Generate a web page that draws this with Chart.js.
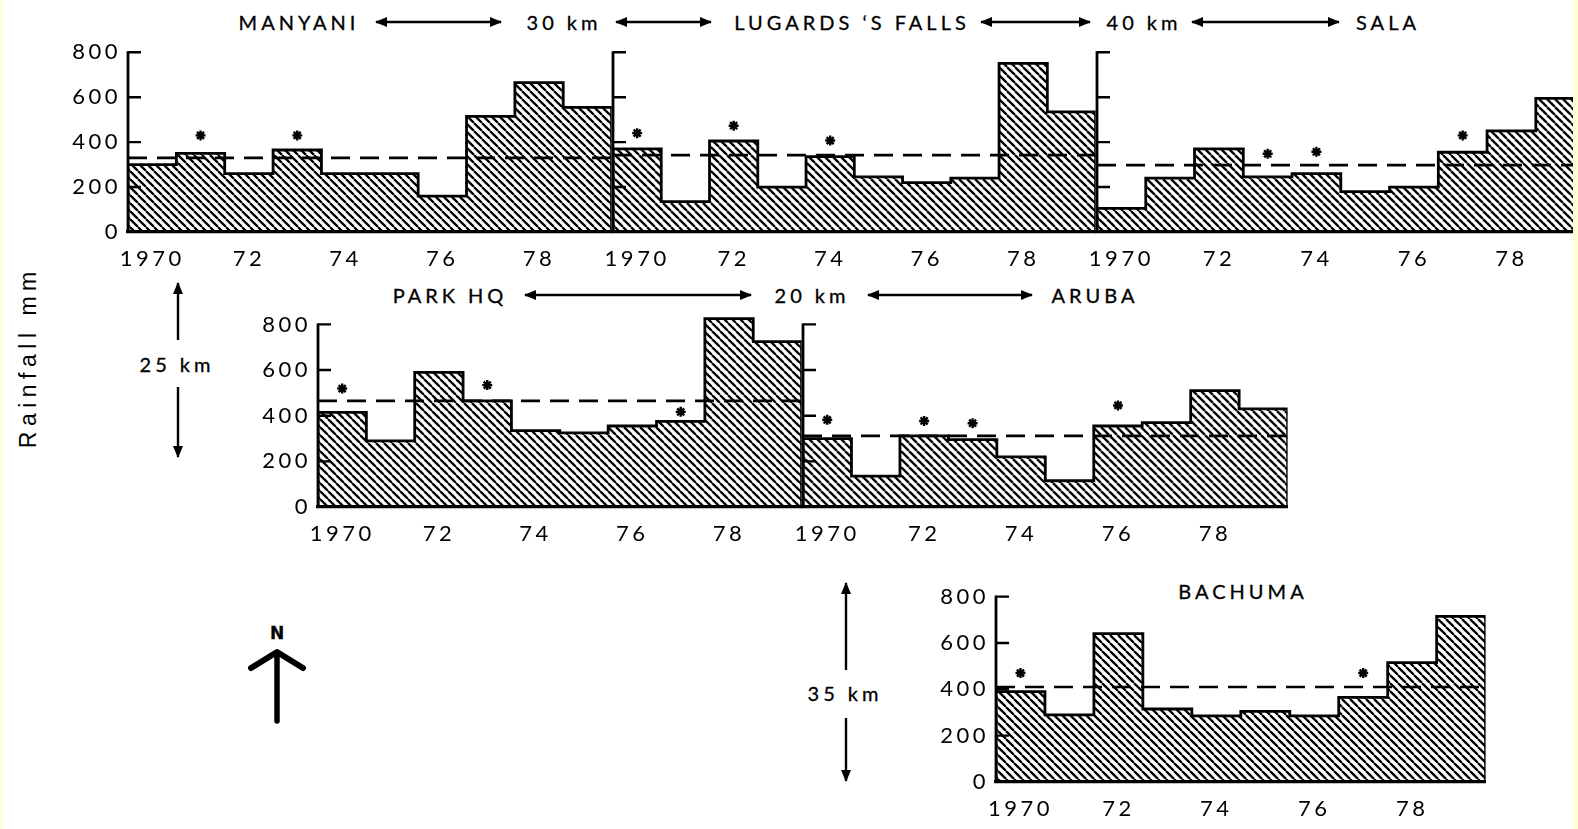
<!DOCTYPE html>
<html>
<head>
<meta charset="utf-8">
<script src="https://cdn.jsdelivr.net/npm/chart.js@4.4.1/dist/chart.umd.min.js"></script>
<style>
html,body{margin:0;padding:0;width:1578px;height:829px;overflow:hidden;background:#fff;}
#stage{position:relative;width:1578px;height:829px;overflow:hidden;}
canvas{position:absolute;}
.lbl{position:absolute;transform:translate(-50%,-50%);font-family:Lato,'DejaVu Sans',sans-serif;font-size:20px;letter-spacing:4px;padding-left:4px;color:#000;white-space:nowrap;line-height:1;-webkit-text-stroke:0.3px #000;}
.edge{position:absolute;top:0;height:829px;background:#ffffd2;}
svg{position:absolute;left:0;top:0;}
</style>
</head>
<body>
<div id="stage">
  <div class="edge" style="left:0;width:2px"></div>
  <div class="edge" style="left:1573px;width:5px;z-index:5"></div>

  <div class="lbl" style="left:297px;top:22px">MANYANI</div>
  <div class="lbl" style="left:562px;top:22px">30 km</div>
  <div class="lbl" style="left:850px;top:22px">LUGARDS ‘S FALLS</div>
  <div class="lbl" style="left:1142px;top:22px">40 km</div>
  <div class="lbl" style="left:1386px;top:22px">SALA</div>

  <div class="lbl" style="left:448px;top:295px">PARK HQ</div>
  <div class="lbl" style="left:810px;top:295px">20 km</div>
  <div class="lbl" style="left:1093px;top:295px">ARUBA</div>

  <div class="lbl" style="left:1241px;top:591px">BACHUMA</div>

  <div class="lbl" style="left:175px;top:364px">25 km</div>
  <div class="lbl" style="left:843px;top:693px">35 km</div>

  <div class="lbl" style="left:277px;top:633px;font-family:'DejaVu Sans',sans-serif;font-weight:bold;font-size:17px;letter-spacing:0;padding-left:0">N</div>

  <div class="lbl" style="left:28px;top:360px;transform:translate(-50%,-50%) rotate(-90deg);font-family:'Liberation Sans',Arial,sans-serif;font-size:23px;letter-spacing:5.5px;padding-left:5.5px;-webkit-text-stroke:0">Rainfall mm</div>

  <svg width="1578" height="829" viewBox="0 0 1578 829" style="z-index:4;pointer-events:none">
    <defs>
      <marker id="ah" viewBox="0 0 12 10" refX="11" refY="5" markerWidth="12" markerHeight="10" markerUnits="userSpaceOnUse" orient="auto-start-reverse">
        <path d="M0,0 L12,5 L0,10 z" fill="#000"/>
      </marker>
    </defs>
    <g stroke="#000" stroke-width="2.4" fill="none">
      <line x1="376" y1="22" x2="501" y2="22" marker-start="url(#ah)" marker-end="url(#ah)"/>
      <line x1="616" y1="22" x2="711" y2="22" marker-start="url(#ah)" marker-end="url(#ah)"/>
      <line x1="981" y1="22" x2="1090" y2="22" marker-start="url(#ah)" marker-end="url(#ah)"/>
      <line x1="1192" y1="22" x2="1339" y2="22" marker-start="url(#ah)" marker-end="url(#ah)"/>
      <line x1="525" y1="295" x2="751" y2="295" marker-start="url(#ah)" marker-end="url(#ah)"/>
      <line x1="868" y1="295" x2="1032" y2="295" marker-start="url(#ah)" marker-end="url(#ah)"/>
      <line x1="178" y1="340" x2="178" y2="283" marker-end="url(#ah)"/>
      <line x1="178" y1="387" x2="178" y2="457" marker-end="url(#ah)"/>
      <line x1="846" y1="670" x2="846" y2="583" marker-end="url(#ah)"/>
      <line x1="846" y1="718" x2="846" y2="781" marker-end="url(#ah)"/>
    </g>
    <g stroke="#000" stroke-linecap="round" stroke-linejoin="round" fill="none">
      <line x1="277" y1="654" x2="277" y2="721" stroke-width="5.5"/>
      <polyline points="251,668 277,652 303,668" stroke-width="6"/>
    </g>
  </svg>
</div>

<script>
// ---------- data ----------
const years = [1970, 1971, 1972, 1973, 1974, 1975, 1976, 1977, 1978, 1979];
const tickYears = [1970, 1972, 1974, 1976, 1978];
const tickLabels = ['1970', '72', '74', '76', '78'];
const yTickValues = [0, 200, 400, 600, 800];

const manyaniRain = [300, 350, 260, 365, 260, 260, 160, 515, 665, 555];
const manyaniMean = 330;
const manyaniStarYears = [1971, 1973];
const manyaniStarHeights = [430, 430];

const lugardsRain = [370, 135, 405, 200, 335, 245, 220, 240, 750, 535];
const lugardsMean = 342;
const lugardsStarYears = [1970, 1972, 1974];
const lugardsStarHeights = [440, 473, 407];

const salaRain = [105, 240, 370, 245, 260, 180, 200, 355, 450, 595];
const salaMean = 298;
const salaStarYears = [1973, 1974, 1977];
const salaStarHeights = [348, 357, 430];

const parkRain = [415, 290, 590, 465, 335, 325, 355, 375, 825, 725];
const parkMean = 465;
const parkStarYears = [1970, 1973, 1977];
const parkStarHeights = [519, 534, 417];

const arubaRain = [300, 135, 312, 295, 220, 115, 355, 370, 510, 430];
const arubaMean = 312;
const arubaStarYears = [1970, 1972, 1973, 1976];
const arubaStarHeights = [382, 377, 367, 445];

const bachumaRain = [390, 290, 640, 315, 285, 305, 285, 365, 515, 715];
const bachumaMean = 410;
const bachumaStarYears = [1970, 1977];
const bachumaStarHeights = [470, 470];

// ---------- layout (positions only) ----------
const PAD_L = 70, PAD_R = 6, PAD_T = 30, PAD_B = 50, YMAX = 850;
const layout = {
  manyani: {left: 128, width: 485, y0: 232, y800: 52, showY: true},
  lugards: {left: 613, width: 484, y0: 232, y800: 52, showY: false},
  sala:    {left: 1097, width: 489, y0: 232, y800: 52, showY: false},
  park:    {left: 318, width: 485, y0: 507, y800: 324, showY: true},
  aruba:   {left: 803, width: 486, y0: 507, y800: 324, showY: false},
  bachuma: {left: 996, width: 491, y0: 782, y800: 597, showY: true}
};

const INK = '#000';
const tickFont = {family: 'Lato, "DejaVu Sans", sans-serif', size: 22};

function hatch(ctx) {
  const c = document.createElement('canvas');
  const s = 8;
  c.width = s; c.height = s;
  const g = c.getContext('2d');
  g.strokeStyle = '#000';
  g.lineWidth = 2.3;
  g.beginPath();
  for (const o of [-s, 0, s]) { g.moveTo(o, 0); g.lineTo(o + s, s); }
  g.stroke();
  return ctx.createPattern(c, 'repeat');
}

function histPoints(values) {
  const pts = [{x: years[0] - 0.5, y: 0}];
  values.forEach((v, i) => pts.push({x: years[i] - 0.5, y: v}));
  const last = years[years.length - 1] + 0.5;
  pts.push({x: last, y: values[values.length - 1]});
  pts.push({x: last, y: 0});
  return pts;
}

const axisPlugin = {
  id: 'inwardAxis',
  beforeDraw(chart) { chart.ctx.letterSpacing = '3.5px'; },
  afterDatasetsDraw(chart) {
    const ctx = chart.ctx, ys = chart.scales.y, x = chart.chartArea.left;
    ctx.save();
    ctx.strokeStyle = INK;
    ctx.lineCap = 'butt';
    ctx.lineWidth = 2.8;
    ctx.beginPath();
    ctx.moveTo(x, ys.getPixelForValue(0) + 1);
    ctx.lineTo(x, ys.getPixelForValue(800) - 1);
    ctx.stroke();
    ctx.lineWidth = 2.4;
    ctx.beginPath();
    yTickValues.slice(1).forEach(v => {
      const py = ys.getPixelForValue(v);
      ctx.moveTo(x, py);
      ctx.lineTo(x + 13, py);
    });
    ctx.stroke();
    ctx.restore();
  }
};

function makePanel(key, values, mean, starYears, starHeights) {
  const geo = layout[key];
  const k = (geo.y0 - geo.y800) / 800;
  const plotH = Math.round(YMAX * k);
  const cv = document.createElement('canvas');
  cv.width = PAD_L + geo.width + PAD_R;
  cv.height = PAD_T + plotH + PAD_B;
  cv.style.left = (geo.left - PAD_L) + 'px';
  cv.style.top = (geo.y0 - plotH - PAD_T) + 'px';
  document.getElementById('stage').appendChild(cv);
  const ctx = cv.getContext('2d');
  const x0 = years[0] - 0.5, x1 = years[years.length - 1] + 0.5;

  new Chart(ctx, {
    type: 'line',
    data: {
      datasets: [
        {
          label: 'asterisk',
          data: starYears.map((yr, i) => ({x: yr, y: starHeights[i]})),
          showLine: false,
          pointStyle: 'star',
          pointRadius: 5,
          pointBorderWidth: 2.4,
          pointBorderColor: INK,
          pointBackgroundColor: INK,
          order: 0
        },
        {
          label: 'mean',
          data: [{x: x0, y: mean}, {x: x1, y: mean}],
          borderColor: INK,
          borderWidth: 2.7,
          borderDash: [19, 10],
          pointRadius: 0,
          fill: false,
          order: 1
        },
        {
          label: 'rainfall',
          data: histPoints(values),
          stepped: true,
          borderColor: INK,
          borderWidth: 2.8,
          borderJoinStyle: 'miter',
          backgroundColor: hatch(ctx),
          fill: 'origin',
          pointRadius: 0,
          order: 2
        }
      ]
    },
    options: {
      responsive: false,
      animation: false,
      devicePixelRatio: 1,
      events: [],
      layout: {padding: {left: 0, right: PAD_R, top: PAD_T, bottom: 0}},
      plugins: {legend: {display: false}, tooltip: {enabled: false}},
      scales: {
        x: {
          type: 'linear',
          min: x0,
          max: x1,
          afterBuildTicks: s => { s.ticks = tickYears.map(v => ({value: v})); },
          afterFit: s => { s.height = PAD_B; },
          grid: {display: false, drawTicks: false},
          border: {display: true, color: '#000', width: 3.2},
          ticks: {
            autoSkip: false,
            maxRotation: 0,
            padding: 14,
            color: INK,
            font: tickFont,
            callback: v => tickLabels[tickYears.indexOf(v)]
          }
        },
        y: {
          type: 'linear',
          min: 0,
          max: YMAX,
          afterBuildTicks: s => { s.ticks = yTickValues.map(v => ({value: v})); },
          afterFit: s => { s.width = PAD_L; },
          grid: {display: false, drawTicks: false},
          border: {display: false},
          ticks: {
            display: geo.showY,
            padding: 7,
            color: INK,
            font: tickFont,
            callback: v => String(v)
          }
        }
      }
    },
    plugins: [axisPlugin]
  });
}

makePanel('manyani', manyaniRain, manyaniMean, manyaniStarYears, manyaniStarHeights);
makePanel('lugards', lugardsRain, lugardsMean, lugardsStarYears, lugardsStarHeights);
makePanel('sala', salaRain, salaMean, salaStarYears, salaStarHeights);
makePanel('park', parkRain, parkMean, parkStarYears, parkStarHeights);
makePanel('aruba', arubaRain, arubaMean, arubaStarYears, arubaStarHeights);
makePanel('bachuma', bachumaRain, bachumaMean, bachumaStarYears, bachumaStarHeights);
</script>
</body>
</html>
